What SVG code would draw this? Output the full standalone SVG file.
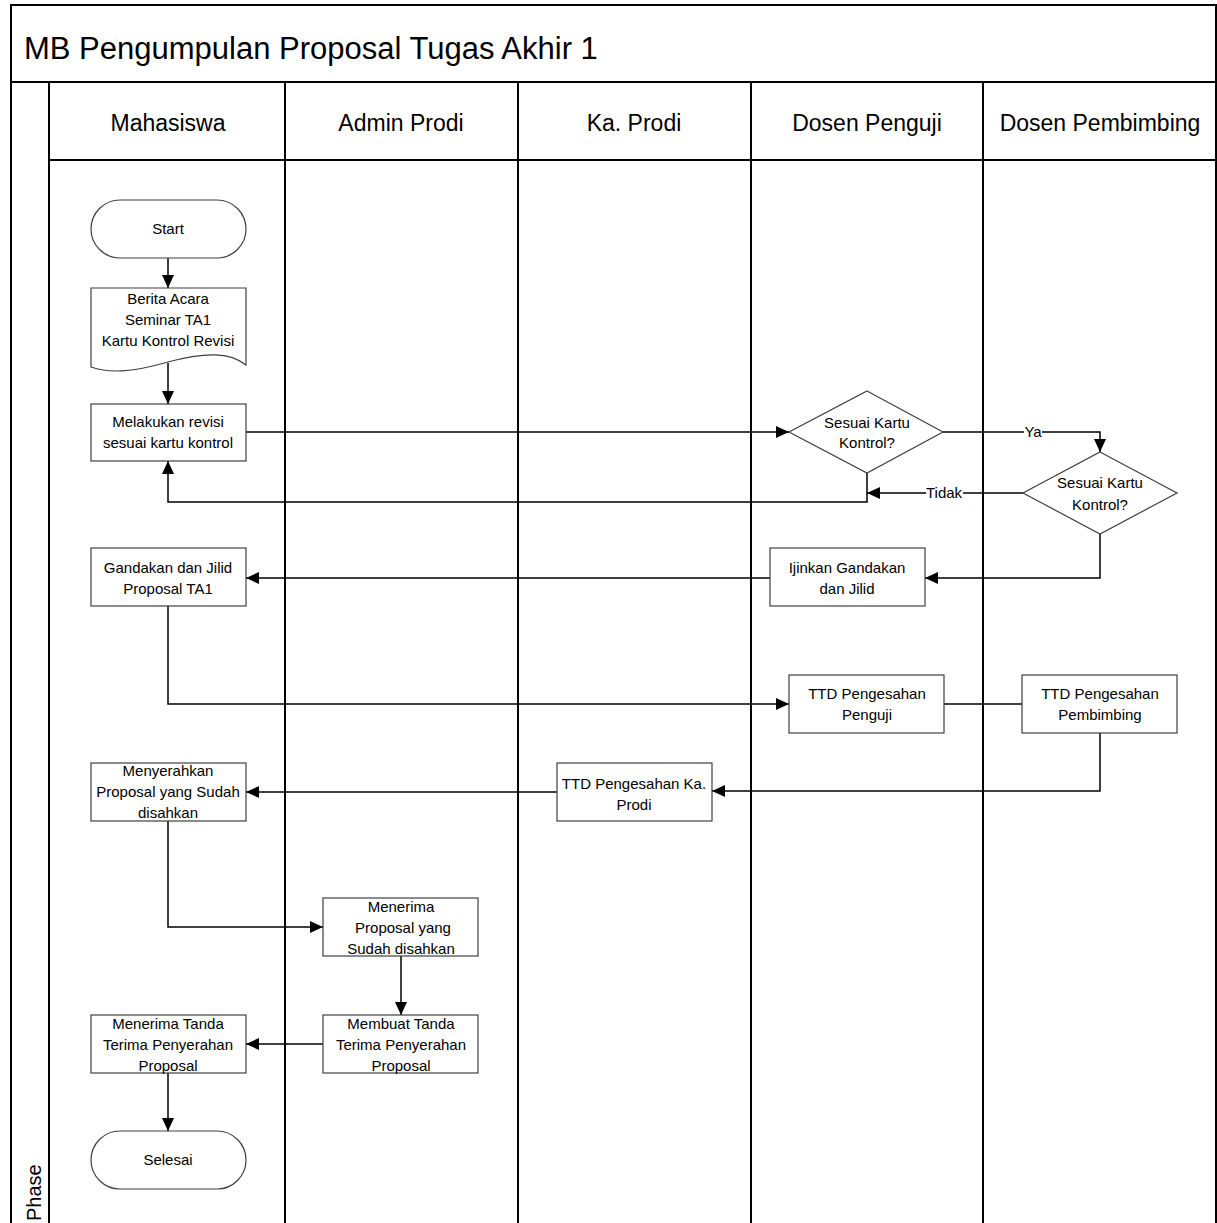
<svg xmlns="http://www.w3.org/2000/svg" width="1217" height="1223" viewBox="0 0 1217 1223">
<style>
.lane{fill:none;stroke:#000;stroke-width:2}
.node{fill:#fff;stroke:#404040;stroke-width:1.2}
.t{font-family:"Liberation Sans",Arial,sans-serif;font-size:15px;fill:#000;text-anchor:middle}
.h{font-family:"Liberation Sans",Arial,sans-serif;font-size:23px;fill:#000;text-anchor:middle}
.conn path{fill:none;stroke:#000;stroke-width:1.5}
.arr{marker-end:url(#ah)}
</style>
<defs>
<marker id="ah" viewBox="0 0 13 12" refX="13" refY="6" markerWidth="13" markerHeight="12" markerUnits="userSpaceOnUse" orient="auto">
<path d="M0,0 L13,6 L0,12 z" fill="#000"/>
</marker>
</defs>
<rect width="1217" height="1223" fill="#fff"/>
<g id="pool">
<rect class="lane" x="11" y="5" width="1205" height="1230"/>
<line class="lane" x1="11" y1="82" x2="1216" y2="82"/>
<line class="lane" x1="49" y1="160" x2="1216" y2="160"/>
<line class="lane" x1="49" y1="82" x2="49" y2="1230"/>
<line class="lane" x1="285" y1="82" x2="285" y2="1230"/>
<line class="lane" x1="518" y1="82" x2="518" y2="1230"/>
<line class="lane" x1="751" y1="82" x2="751" y2="1230"/>
<line class="lane" x1="983" y1="82" x2="983" y2="1230"/>
<text x="24" y="59" font-family="Liberation Sans, Arial, sans-serif" font-size="31" fill="#000">MB Pengumpulan Proposal Tugas Akhir 1</text>
<text class="h" x="168" y="131">Mahasiswa</text>
<text class="h" x="401" y="131">Admin Prodi</text>
<text class="h" x="634" y="131">Ka. Prodi</text>
<text class="h" x="867" y="131">Dosen Penguji</text>
<text class="h" x="1100" y="131">Dosen Pembimbing</text>
<text transform="translate(41,1221) rotate(-90)" font-family="Liberation Sans, Arial, sans-serif" font-size="20" fill="#000">Phase</text>
</g>
<g class="conn" id="connectors">
<path class="arr" d="M168,258 V288"/>
<path class="arr" d="M168,363 V404"/>
<path class="arr" d="M246,432 H789"/>
<path class="arr" d="M943,432 H1100 V452"/>
<path class="arr" d="M1023,493 H867"/>
<path class="arr" d="M867,473 V502 H168 V461"/>
<path class="arr" d="M1100,534 V578 H925"/>
<path class="arr" d="M770,578 H246"/>
<path class="arr" d="M168,606 V704 H789"/>
<path d="M944,704 H1022"/>
<path class="arr" d="M1100,733 V791 H712"/>
<path class="arr" d="M557,792 H246"/>
<path class="arr" d="M168,821 V927 H323"/>
<path class="arr" d="M401,956 V1015"/>
<path class="arr" d="M323,1044 H246"/>
<path class="arr" d="M168,1073 V1131"/>
<rect x="1024" y="424" width="18" height="16" fill="#fff"/>
<text class="t" x="1033" y="437">Ya</text>
<rect x="926" y="485" width="37" height="16" fill="#fff"/>
<text class="t" x="944" y="498">Tidak</text>
</g>
<g id="start">
<rect class="node" x="91" y="200" width="155" height="58" rx="29"/>
<text class="t" x="168" y="234">Start</text>
</g>
<g id="doc">
<path class="node" d="M91,288 H246 V365 C230,352 205,352 168,362 C130,373 108,373 91,367 Z"/>
<text class="t" x="168" y="304">Berita Acara</text>
<text class="t" x="168" y="325">Seminar TA1</text>
<text class="t" x="168" y="346">Kartu Kontrol Revisi</text>
</g>
<g id="revisi">
<rect class="node" x="91" y="404" width="155" height="57"/>
<text class="t" x="168" y="427">Melakukan revisi</text>
<text class="t" x="168" y="448">sesuai kartu kontrol</text>
</g>
<g id="decision1">
<path class="node" d="M867,391 L943,432 L867,473 L789,432 Z"/>
<text class="t" x="867" y="428">Sesuai Kartu</text>
<text class="t" x="867" y="448">Kontrol?</text>
</g>
<g id="decision2">
<path class="node" d="M1100,452 L1177,493 L1100,534 L1023,493 Z"/>
<text class="t" x="1100" y="488">Sesuai Kartu</text>
<text class="t" x="1100" y="510">Kontrol?</text>
</g>
<g id="ijinkan">
<rect class="node" x="770" y="548" width="155" height="58"/>
<text class="t" x="847" y="573">Ijinkan Gandakan</text>
<text class="t" x="847" y="594">dan Jilid</text>
</g>
<g id="gandakan">
<rect class="node" x="91" y="548" width="155" height="58"/>
<text class="t" x="168" y="573">Gandakan dan Jilid</text>
<text class="t" x="168" y="594">Proposal TA1</text>
</g>
<g id="ttdpenguji">
<rect class="node" x="789" y="675" width="155" height="58"/>
<text class="t" x="867" y="699">TTD Pengesahan</text>
<text class="t" x="867" y="720">Penguji</text>
</g>
<g id="ttdpembimbing">
<rect class="node" x="1022" y="675" width="155" height="58"/>
<text class="t" x="1100" y="699">TTD Pengesahan</text>
<text class="t" x="1100" y="720">Pembimbing</text>
</g>
<g id="menyerahkan">
<rect class="node" x="91" y="763" width="155" height="58"/>
<text class="t" x="168" y="776">Menyerahkan</text>
<text class="t" x="168" y="797">Proposal yang Sudah</text>
<text class="t" x="168" y="818">disahkan</text>
</g>
<g id="ttdkaprodi">
<rect class="node" x="557" y="763" width="155" height="58"/>
<text class="t" x="634" y="789">TTD Pengesahan Ka.</text>
<text class="t" x="634" y="810">Prodi</text>
</g>
<g id="menerima">
<rect class="node" x="323" y="898" width="155" height="58"/>
<text class="t" x="401" y="912">Menerima</text>
<text class="t" x="403" y="933">Proposal yang</text>
<text class="t" x="401" y="954">Sudah disahkan</text>
</g>
<g id="membuat">
<rect class="node" x="323" y="1015" width="155" height="58"/>
<text class="t" x="401" y="1029">Membuat Tanda</text>
<text class="t" x="401" y="1050">Terima Penyerahan</text>
<text class="t" x="401" y="1071">Proposal</text>
</g>
<g id="menerimatanda">
<rect class="node" x="91" y="1015" width="155" height="58"/>
<text class="t" x="168" y="1029">Menerima Tanda</text>
<text class="t" x="168" y="1050">Terima Penyerahan</text>
<text class="t" x="168" y="1071">Proposal</text>
</g>
<g id="selesai">
<rect class="node" x="91" y="1131" width="155" height="58" rx="29"/>
<text class="t" x="168" y="1165">Selesai</text>
</g>
</svg>
